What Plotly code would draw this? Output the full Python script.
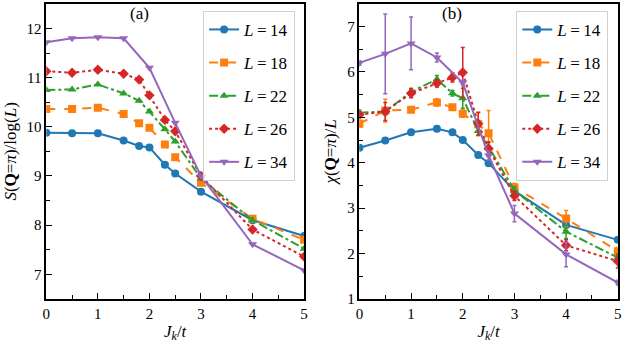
import plotly.graph_objects as go

# Jk/t sample points
jk = [0, 0.5, 1, 1.5, 1.8, 2, 2.3, 2.5, 3, 4, 5]
jk34 = [0, 0.5, 1, 1.5, 2, 2.5, 3, 4, 5]

# panel (a): S(Q=pi)/log(L)
s14 = [9.88, 9.87, 9.87, 9.72, 9.61, 9.58, 9.23, 9.05, 8.68, 8.10, 7.78]
s18 = [10.36, 10.36, 10.39, 10.26, 10.07, 9.98, 9.64, 9.38, 8.86, 8.13, 7.70]
s22 = [10.75, 10.76, 10.86, 10.68, 10.53, 10.31, 9.95, 9.70, 8.95, 8.10, 7.52]
s26 = [11.13, 11.10, 11.16, 11.08, 10.96, 10.64, 10.14, 9.91, 9.00, 7.91, 7.36]
s34 = [11.72, 11.80, 11.82, 11.80, 11.20, 10.08, 9.00, 7.61, 7.08]

# panel (b): chi(Q=pi)/L and error bars
c14 = [4.33, 4.49, 4.67, 4.75, 4.67, 4.50, 4.17, 3.99, 3.38, 2.63, 2.30]
c18 = [4.86, 5.15, 5.17, 5.33, 5.22, 5.08, 4.85, 4.65, 3.46, 2.77, 2.05]
c22 = [5.10, 5.13, 5.56, 5.84, 5.53, 5.42, 4.70, 4.35, 3.39, 2.48, 1.91]
c26 = [5.06, 5.13, 5.53, 5.75, 5.88, 5.99, 4.86, 4.31, 3.27, 2.18, 1.83]
c34 = [6.20, 6.40, 6.63, 6.32, 5.76, 4.16, 2.88, 1.98, 1.36]
e14 = [0.03, 0.03, 0.03, 0.03, 0.03, 0.03, 0.03, 0.03, 0.05, 0.05, 0.05]
e18 = [0.08, 0.25, 0.05, 0.08, 0.05, 0.08, 0.25, 0.50, 0.08, 0.18, 0.08]
e22 = [0.06, 0.08, 0.08, 0.08, 0.06, 0.22, 0.10, 0.10, 0.08, 0.15, 0.08]
e26 = [0.06, 0.20, 0.10, 0.08, 0.10, 0.55, 0.25, 0.15, 0.10, 0.12, 0.15]
e34 = [0.05, 0.88, 0.58, 0.10, 0.05, 0.10, 0.18, 0.27, 0.05]

labels = ["14", "18", "22", "26", "34"]
colors = ["#1f77b4", "#ff7f0e", "#2ca02c", "#d62728", "#9467bd"]
dashes = ["solid", "dash", "dashdot", "dot", "solid"]
symbols = ["circle", "square", "triangle-up", "diamond", "triangle-down"]

FONT = "Liberation Serif"

fig = go.Figure()

left = [(jk, s14), (jk, s18), (jk, s22), (jk, s26), (jk34, s34)]
right = [(jk, c14, e14), (jk, c18, e18), (jk, c22, e22), (jk, c26, e26), (jk34, c34, e34)]

for i, (x, y) in enumerate(left):
    fig.add_trace(go.Scatter(
        x=x, y=y, mode="lines+markers", name=f"<i>L</i>\u2009=\u2009{labels[i]}",
        line=dict(color=colors[i], dash=dashes[i], width=2),
        marker=dict(symbol=symbols[i], size=8, color=colors[i]),
        legend="legend", legendgroup=f"a{i}",
        xaxis="x", yaxis="y",
    ))

for i, (x, y, e) in enumerate(right):
    fig.add_trace(go.Scatter(
        x=x, y=y, mode="lines+markers", name=f"<i>L</i>\u2009=\u2009{labels[i]}",
        line=dict(color=colors[i], dash=dashes[i], width=2),
        marker=dict(symbol=symbols[i], size=8, color=colors[i]),
        error_y=dict(type="data", array=e, color=colors[i], thickness=1.5, width=2),
        legend="legend2", legendgroup=f"b{i}",
        xaxis="x2", yaxis="y2",
    ))

axis_common = dict(
    showline=True, linecolor="black", linewidth=1.5, mirror=True,
    ticks="inside", ticklen=6, tickwidth=1.2, tickcolor="black",
    minor=dict(ticks="inside", ticklen=4, tickwidth=1, tickcolor="black", dtick=0.5),
    showgrid=False, zeroline=False,
    tickfont=dict(family=FONT, size=15, color="black"),
)

x_title = dict(text="<i>J</i><sub><i>k</i></sub>/<i>t</i>", font=dict(family=FONT, size=17, color="black"), standoff=4)

fig.update_layout(
    width=630, height=348,
    margin=dict(l=0, r=0, t=0, b=0),
    plot_bgcolor="white", paper_bgcolor="white",
    font=dict(family=FONT, color="black"),
    xaxis=dict(domain=[0.068, 0.4825], range=[0, 5], dtick=1, anchor="y", title=x_title, **axis_common),
    yaxis=dict(domain=[0.121, 0.9885], range=[6.5, 12.5], dtick=1, anchor="x",
               title=dict(text="<i>S</i>(<b>Q</b>=<i>π</i>)/log(<i>L</i>)", font=dict(family=FONT, size=17, color="black"), standoff=6),
               **axis_common),
    xaxis2=dict(domain=[0.5714, 0.9868], range=[0, 5], dtick=1, anchor="y2", title=x_title, **axis_common),
    yaxis2=dict(domain=[0.121, 0.9885], range=[1, 7.5], dtick=1, anchor="x2",
                title=dict(text="<i>χ</i>(<b>Q</b>=<i>π</i>)/<i>L</i>", font=dict(family=FONT, size=17, color="black"), standoff=6),
                **axis_common),
    legend=dict(x=0.468, y=0.968, xanchor="right", yanchor="top", bgcolor="rgba(255,255,255,0.8)",
                bordercolor="#d0d0d0", borderwidth=1, font=dict(family=FONT, size=17, color="black"),
                tracegroupgap=8, itemwidth=30),
    legend2=dict(x=0.9715, y=0.968, xanchor="right", yanchor="top", bgcolor="rgba(255,255,255,0.8)",
                 bordercolor="#d0d0d0", borderwidth=1, font=dict(family=FONT, size=17, color="black"),
                 tracegroupgap=8, itemwidth=30),
    annotations=[
        dict(text="(a)", x=1.8, y=1, xref="x", yref="paper", yanchor="top", yshift=-2, showarrow=False,
             font=dict(family=FONT, size=17, color="black")),
        dict(text="(b)", x=1.8, y=1, xref="x2", yref="paper", yanchor="top", yshift=-2, showarrow=False,
             font=dict(family=FONT, size=17, color="black")),
    ],
)

# the page body has a default 8px margin; drop it so the figure sits at the window origin
fig.write_html("out.html", config={"displayModeBar": False},
               post_script="document.body.style.margin='0';")
